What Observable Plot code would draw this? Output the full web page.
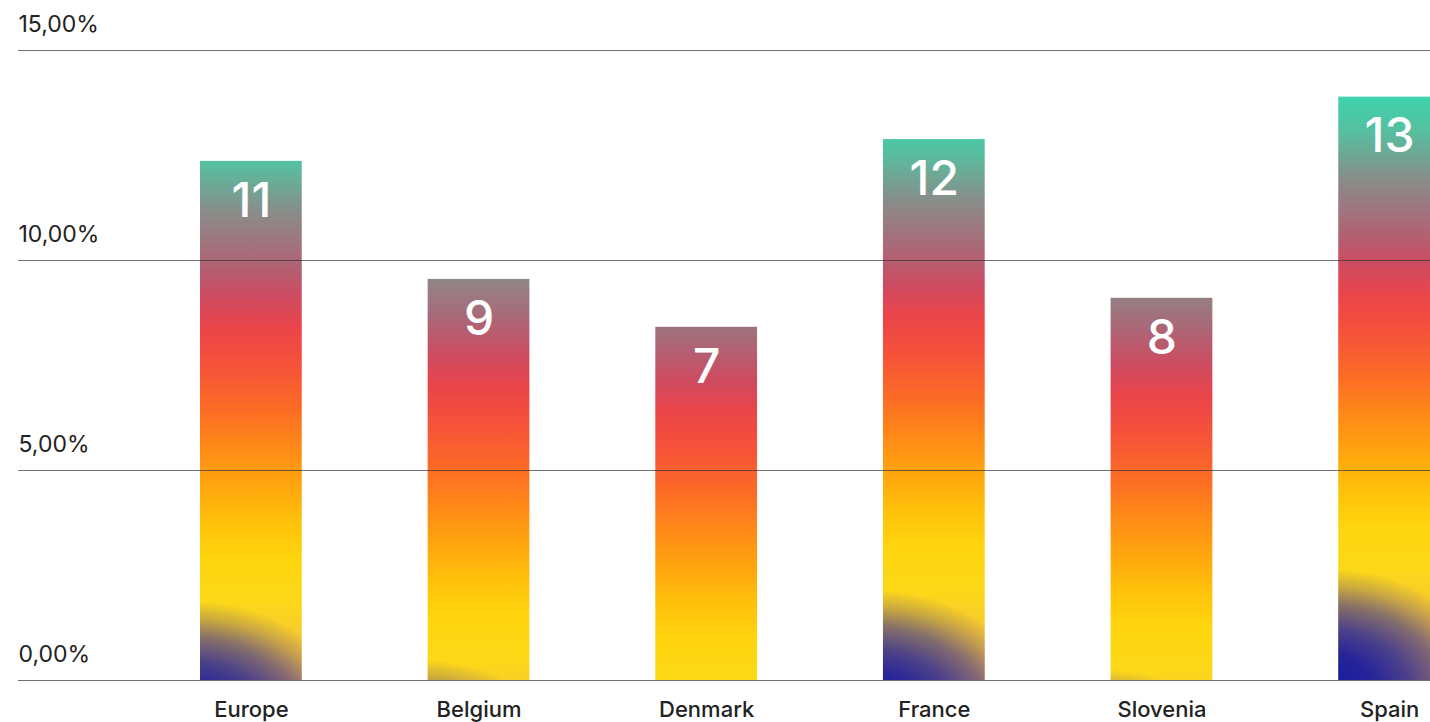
<!DOCTYPE html>
<html>
<head>
<meta charset="utf-8">
<script src="https://cdn.jsdelivr.net/npm/d3@7"></script>
<script src="https://cdn.jsdelivr.net/npm/@observablehq/plot@0.6"></script>
<style>
  html, body { margin: 0; padding: 0; background: #fff; }
  #chart svg { display: block; font-family: Inter, "Noto Sans", sans-serif; }
</style>
</head>
<body>
<div id="chart"></div>
<script>
// ---- data ----
const categories = ["Europe", "Belgium", "Denmark", "France", "Slovenia", "Spain"];
const values = [12.36, 9.55, 8.41, 12.88, 9.10, 13.89];
const barLabels = ["11", "9", "7", "12", "8", "13"];
const yTicks = [0, 5, 10, 15];
const yTickLabels = ["0,00%", "5,00%", "10,00%", "15,00%"];

// gradient colour stops (offset along a fixed-height image centred on each bar)
const gradOffsets = [0, 0.07, 0.15, 0.23, 0.29, 0.345, 0.41, 0.48, 0.545, 0.61, 0.67, 0.73, 0.80, 0.87, 0.93, 1];
const gradColors = ["#38d8b0", "#55c0a0", "#888e8a", "#aa6878", "#cc4c62", "#ea4449", "#f65339", "#fc6b25",
                    "#ff8a18", "#ffa60e", "#ffc20a", "#ffd50e", "#fcd818", "#f8c832", "#f2b848", "#eeb050"];
const blueOffsets = [0, 0.3, 0.5, 0.7, 0.85, 1];
const blueOpacity = [1, 0.92, 0.75, 0.5, 0.22, 0];

const data = categories.map((c, i) => ({category: c, value: values[i], label: barLabels[i]}));

const chart = Plot.plot({
  width: 1430,
  height: 722,
  marginLeft: 18,
  marginRight: 0,
  marginTop: 50,
  marginBottom: 42,
  x: {type: "band", domain: categories, range: [200, 1440], paddingInner: 0.553, paddingOuter: 0, round: false, axis: null},
  y: {domain: [0, 15], axis: null},
  marks: [
    Plot.barY(data, {x: "category", y: "value", fill: "#ffa010"}),
    Plot.ruleY(yTicks, {stroke: "#333", strokeOpacity: 0.7, strokeWidth: 1}),
    Plot.text(yTicks, {y: d => d, text: (d, i) => yTickLabels[i], frameAnchor: "left", textAnchor: "start",
                       dy: -26, fontSize: 23, fill: "#222"}),
    Plot.text(data, {x: "category", y: "value", text: "label", dy: 40, fill: "white", fontSize: 48, fontWeight: 500}),
    Plot.text(data, {x: "category", text: "category", frameAnchor: "bottom", dy: 36, fontSize: 22,
                     fontWeight: 500, fill: "#222"})
  ]
});

// ---- gradient fills applied to the rendered bars ----
const NS = "http://www.w3.org/2000/svg";
const defs = document.createElementNS(NS, "defs");
chart.insertBefore(defs, chart.firstChild);
const IMG_H = 600;
chart.querySelectorAll('g[aria-label="bar"] rect').forEach((r, i) => {
  const x = +r.getAttribute("x"), y = +r.getAttribute("y");
  const h = +r.getAttribute("height");
  const cy = y + h / 2, top = cy - IMG_H / 2, bot = cy + IMG_H / 2;

  const lg = document.createElementNS(NS, "linearGradient");
  lg.setAttribute("id", "barGrad" + i);
  lg.setAttribute("gradientUnits", "userSpaceOnUse");
  lg.setAttribute("x1", 0); lg.setAttribute("x2", 0);
  lg.setAttribute("y1", top); lg.setAttribute("y2", bot);
  gradOffsets.forEach((o, k) => {
    const s = document.createElementNS(NS, "stop");
    s.setAttribute("offset", o);
    s.setAttribute("stop-color", gradColors[k]);
    lg.appendChild(s);
  });
  defs.appendChild(lg);

  const bx = x - 15;
  const rg = document.createElementNS(NS, "radialGradient");
  rg.setAttribute("id", "barBlue" + i);
  rg.setAttribute("gradientUnits", "userSpaceOnUse");
  rg.setAttribute("cx", bx); rg.setAttribute("cy", bot); rg.setAttribute("r", 120);
  rg.setAttribute("gradientTransform", `translate(${bx} ${bot}) scale(1.4 1) translate(${-bx} ${-bot})`);
  blueOffsets.forEach((o, k) => {
    const s = document.createElementNS(NS, "stop");
    s.setAttribute("offset", o);
    s.setAttribute("stop-color", "#1418a0");
    s.setAttribute("stop-opacity", blueOpacity[k]);
    rg.appendChild(s);
  });
  defs.appendChild(rg);

  r.setAttribute("fill", `url(#barGrad${i})`);
  const ov = r.cloneNode(false);
  ov.setAttribute("fill", `url(#barBlue${i})`);
  r.parentNode.insertBefore(ov, r.nextSibling);
});

document.getElementById("chart").appendChild(chart);
</script>
</body>
</html>
